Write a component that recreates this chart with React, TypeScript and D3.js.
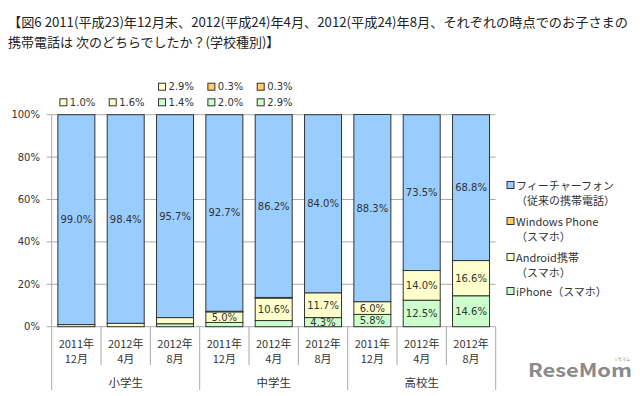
import * as d3 from "d3";

const keys = ["a", "b", "c", "d", "e", "f", "g", "h", "i"];
const groups = ["小学生", "中学生", "高校生"];
const periodTop = ["2011年", "2012年", "2012年"];
const periodBottom = ["12月", "4月", "8月"];

const featurePhone = [99.0, 98.4, 95.7, 92.7, 86.2, 84.0, 88.3, 73.5, 68.8];
const windowsPhone = [0, 0, 0, 0.3, 0.3, 0, 0, 0, 0];
const android = [1.0, 1.6, 2.9, 5.0, 10.6, 11.7, 6.0, 14.0, 16.6];
const iphone = [0, 0, 1.4, 2.0, 2.9, 4.3, 5.8, 12.5, 14.6];

const yTicks = [0, 20, 40, 60, 80, 100];

const series = [
  { key: "iphone", values: iphone, color: "#CCFFCC", label: ["iPhone（スマホ）"] },
  { key: "android", values: android, color: "#FFFFCC", label: ["Android携帯", "（スマホ）"] },
  { key: "windows", values: windowsPhone, color: "#FFCC66", label: ["Windows Phone", "（スマホ）"] },
  { key: "feature", values: featurePhone, color: "#99CCFF", label: ["フィーチャーフォン", "（従来の携帯電話）"] },
];

const W = 640;
const H = 396;
const left = 51.7;
const right = 495.7;
const top = 114.7;
const bottom = 326.7;
const font = "'Noto Sans CJK JP', 'Noto Sans', sans-serif";
const numFont = "'DejaVu Sans', Verdana, sans-serif";
const textColor = "#333";

export default function App() {
  const x = d3.scaleBand().domain(keys).range([left, right]).paddingInner(0.25).paddingOuter(0.125);
  const y = d3.scaleLinear().domain([0, 100]).range([bottom, top]);

  const rows = keys.map((k, i) => {
    const r: any = { k };
    series.forEach((s) => (r[s.key] = s.values[i]));
    return r;
  });
  const stacked = d3.stack<any>().keys(series.map((s) => s.key))(rows);
  const step = x.step();

  // small values go above the bars
  const outside = keys.map((k, i) => {
    const items = [...series].reverse().filter((s) => s.values[i] > 0 && s.values[i] < 4);
    return items.map((s, j) => ({
      color: s.color,
      text: s.values[i].toFixed(1) + "%",
      x: x(k)!,
      y: 102.3 - (items.length - 1 - j) * 15.6,
    }));
  }).flat();

  const legendY = [185, 221, 257, 291];

  return (
    <svg width={W} height={H} style={{ position: "absolute", left: 0, top: 0, background: "#fff" }} fontFamily={font}>
      <text x={8} y={21} fontSize={13} fill="#222" dominantBaseline="central" textLength={620} lengthAdjust="spacingAndGlyphs">
        【図6 2011(平成23)年12月末、2012(平成24)年4月、2012(平成24)年8月、それぞれの時点でのお子さまの
      </text>
      <text x={8} y={41} fontSize={13} fill="#222" dominantBaseline="central">
        携帯電話は 次のどちらでしたか？(学校種別)】
      </text>

      {yTicks.map((t) => (
        <g key={t}>
          <line x1={left} x2={right} y1={y(t)} y2={y(t)} stroke="#aaa" strokeWidth={1} />
          <line x1={left - 5} x2={left} y1={y(t)} y2={y(t)} stroke="#aaa" strokeWidth={1} />
          <text x={40} y={y(t)} fontSize={10} fontFamily={numFont} fill={textColor} textAnchor="end" dominantBaseline="central">
            {t}%
          </text>
        </g>
      ))}
      <line x1={left} x2={left} y1={top} y2={bottom} stroke="#aaa" />

      {stacked.map((layer, li) =>
        layer.map((d, i) =>
          d[1] - d[0] > 0 ? (
            <rect
              key={li + "-" + i}
              x={x(keys[i])!}
              y={y(d[1])}
              width={x.bandwidth()}
              height={y(d[0]) - y(d[1])}
              fill={series[li].color}
              stroke="#333"
              strokeWidth={1}
            />
          ) : null
        )
      )}

      {stacked.map((layer, li) =>
        layer.map((d, i) =>
          d[1] - d[0] >= 4 ? (
            <text
              key={"t" + li + "-" + i}
              x={x(keys[i])! + x.bandwidth() / 2}
              y={y((d[0] + d[1]) / 2)}
              fontSize={10}
              fontFamily={numFont}
              fill={textColor}
              textAnchor="middle"
              dominantBaseline="central"
            >
              {(d[1] - d[0]).toFixed(1)}%
            </text>
          ) : null
        )
      )}

      {outside.map((o, i) => (
        <g key={"o" + i}>
          <rect x={o.x + 2} y={o.y - 3.5} width={7} height={7} fill={o.color} stroke="#333" />
          <text x={o.x + 12} y={o.y} fontSize={10} fontFamily={numFont} fill={textColor} dominantBaseline="central">
            {o.text}
          </text>
        </g>
      ))}

      {keys.map((k, i) => {
        const x0 = x(k)! - (step - x.bandwidth()) / 2;
        const isGroup = i % 3 === 0;
        return (
          <g key={"x" + k}>
            <line x1={x0} x2={x0} y1={bottom} y2={isGroup ? 390 : 365} stroke="#aaa" />
            <text x={x(k)! + x.bandwidth() / 2} y={343} fontSize={11} fill={textColor} textAnchor="middle" dominantBaseline="central">
              {periodTop[i % 3]}
            </text>
            <text x={x(k)! + x.bandwidth() / 2} y={358} fontSize={11} fill={textColor} textAnchor="middle" dominantBaseline="central">
              {periodBottom[i % 3]}
            </text>
          </g>
        );
      })}
      <line x1={right} x2={right} y1={bottom} y2={390} stroke="#aaa" />
      {groups.map((g, gi) => (
        <text
          key={g}
          x={left + step * (gi * 3 + 1.5)}
          y={381.5}
          fontSize={11.5}
          fill={textColor}
          textAnchor="middle"
          dominantBaseline="central"
        >
          {g}
        </text>
      ))}

      {[...series].reverse().map((s, i) => (
        <g key={"l" + s.key}>
          <rect x={507} y={legendY[i] - 3.5} width={7} height={7} fill={s.color} stroke="#333" />
          {s.label.map((t, j) => (
            <text key={j} x={516} y={legendY[i] + j * 14.5} fontSize={11} fill={textColor} dominantBaseline="central">
              {t}
            </text>
          ))}
        </g>
      ))}

      <text x={528} y={377} fontSize={18} fontWeight="bold" fill="#8a8a8a" textLength={104} lengthAdjust="spacingAndGlyphs">
        ReseMom
      </text>
      <text x={622} y={361} fontSize={4} fill="#8a8a8a" textAnchor="middle">
        リセマム
      </text>
    </svg>
  );
}
